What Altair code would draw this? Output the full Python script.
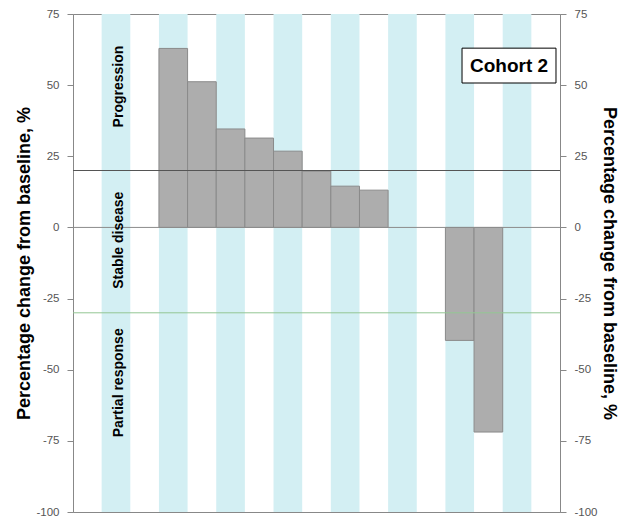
import altair as alt
import pandas as pd

# ---- data ----
slot_count = 17
stripe_slots = [1, 3, 5, 7, 9, 11, 13, 15]
patient_slots = [3, 4, 5, 6, 7, 8, 9, 10, 13, 14]
pct_change = [62.9, 51.2, 34.6, 31.4, 26.8, 19.8, 14.5, 13.1, -39.7, -71.9]
ref_values = [0, 20, -30]
ref_colors = ["#8c8c8c", "#555555", "#93c793"]
zone_labels = ["Progression", "Stable disease", "Partial response"]
zone_label_y = [49.5, -4.5, -54.6]
zone_label_x = [1.6, 1.6, 1.6]
y_ticks = [-100, -75, -50, -25, 0, 25, 50, 75]
cohort_label = "Cohort 2"
cohort_box_x = [13.58, 16.86]
cohort_box_y = [63.0, 50.75]

W, H = 487, 498
FONT = "Liberation Sans"
TITLE = "Percentage change from baseline, %"

stripe_df = pd.DataFrame({"slot": stripe_slots})
bar_df = pd.DataFrame({"slot": patient_slots, "pct": pct_change})
ref_df = pd.DataFrame({"val": ref_values, "color": ref_colors})
zone_df = pd.DataFrame({"label": zone_labels, "y": zone_label_y, "x": zone_label_x})
box_df = pd.DataFrame({"x": [cohort_box_x[0]], "x2": [cohort_box_x[1]],
                       "y": [cohort_box_y[0]], "y2": [cohort_box_y[1]],
                       "label": [cohort_label]})

xscale = alt.Scale(domain=[0, slot_count], nice=False, zero=False)
yscale = alt.Scale(domain=[-100, 75], nice=False, zero=False)


def yaxis(orient):
    return alt.Axis(orient=orient, values=y_ticks, title=TITLE, titleFontSize=18,
                    titleFont=FONT, titleFontWeight="bold", titleColor="black",
                    labelFont=FONT, labelFontSize=11.5, labelColor="#555555",
                    labelExpr="toString(datum.value)",
                    tickSize=6, tickColor="#888888", domainColor="#888888",
                    labelPadding=8, titlePadding=2, grid=False)


stripes = alt.Chart(stripe_df).transform_calculate(slot2="datum.slot + 1").mark_rect(
    color="#d3eff3"
).encode(
    x=alt.X("slot:Q", scale=xscale, axis=None),
    x2="slot2:Q",
    y=alt.value(0),
    y2=alt.value(H),
)

bars = alt.Chart(bar_df).transform_calculate(slot2="datum.slot + 1", zero="0").mark_rect(
    fill="#adadad", stroke="#8a8a8a", strokeWidth=1
).encode(
    x=alt.X("slot:Q", scale=xscale, axis=None),
    x2="slot2:Q",
    y=alt.Y("pct:Q", scale=yscale, axis=yaxis("left")),
    y2="zero:Q",
)

rules = alt.Chart(ref_df).mark_rule(strokeWidth=1).encode(
    y=alt.Y("val:Q", scale=yscale, axis=yaxis("right")),
    color=alt.Color("color:N", scale=None),
)

zones = alt.Chart(zone_df).mark_text(
    angle=270, font=FONT, fontSize=14, fontWeight="bold", color="black",
    align="center", baseline="middle"
).encode(
    x=alt.X("x:Q", scale=xscale, axis=None),
    y=alt.Y("y:Q", scale=yscale, axis=None),
    text="label:N",
)

box = alt.Chart(box_df).mark_rect(fill="white", stroke="black", strokeWidth=1).encode(
    x=alt.X("x:Q", scale=xscale, axis=None),
    x2="x2:Q",
    y=alt.Y("y:Q", scale=yscale, axis=None),
    y2="y2:Q",
)

box_text = alt.Chart(box_df).transform_calculate(
    cx="(datum.x + datum.x2) / 2", cy="(datum.y + datum.y2) / 2"
).mark_text(
    font=FONT, fontSize=19, fontWeight="bold", color="black",
    align="center", baseline="middle"
).encode(
    x=alt.X("cx:Q", scale=xscale, axis=None),
    y=alt.Y("cy:Q", scale=yscale, axis=None),
    text="label:N",
)

chart = alt.layer(stripes, bars, rules, zones, box, box_text).resolve_axis(
    y="independent"
).properties(
    width=W, height=H, padding={"left": 7, "top": 0, "right": 3, "bottom": 0}
).configure_view(stroke="#888888", strokeWidth=1)

chart.save("out.html", embed_options={"renderer": "svg", "actions": False})
